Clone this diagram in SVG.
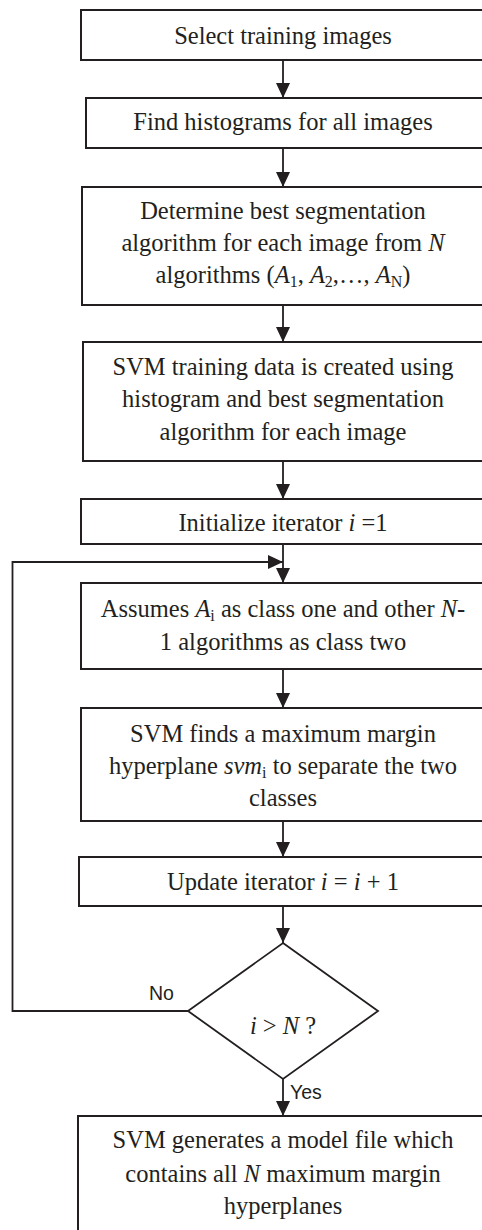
<svg xmlns="http://www.w3.org/2000/svg" width="482" height="1230" viewBox="0 0 482 1230">
<style>
.box{fill:#fff;stroke:#231f20;stroke-width:2}
.dia{fill:#fff;stroke:#231f20;stroke-width:1.8}
.t{font-family:"Liberation Serif","Times New Roman",serif;font-size:24.5px;fill:#231f20;text-anchor:middle}
.i{font-style:italic}
.sub{font-size:16px}
.lab{font-family:"Liberation Sans",Arial,sans-serif;font-size:19.5px;fill:#231f20}
.c{fill:none;stroke:#231f20;stroke-width:1.8}
</style>
<defs>
<marker id="ah" markerUnits="userSpaceOnUse" markerWidth="15" markerHeight="15" viewBox="0 0 15 15" refX="15" refY="7.5" orient="auto">
<path d="M0,0.5 L15,7.5 L0,14.5 z" fill="#231f20"/>
</marker>
</defs>
<rect width="482" height="1230" fill="#fff"/>
<g id="connectors">
<line class="c" x1="283" y1="60" x2="283" y2="98" marker-end="url(#ah)"/>
<line class="c" x1="283" y1="148" x2="283" y2="187" marker-end="url(#ah)"/>
<line class="c" x1="283" y1="305" x2="283" y2="342" marker-end="url(#ah)"/>
<line class="c" x1="283" y1="461" x2="283" y2="499" marker-end="url(#ah)"/>
<line class="c" x1="283" y1="544" x2="283" y2="583" marker-end="url(#ah)"/>
<line class="c" x1="283" y1="669" x2="283" y2="708" marker-end="url(#ah)"/>
<line class="c" x1="283" y1="821" x2="283" y2="857" marker-end="url(#ah)"/>
<line class="c" x1="283" y1="906" x2="283" y2="943" marker-end="url(#ah)"/>
<line class="c" x1="283" y1="1079" x2="283" y2="1116" marker-end="url(#ah)"/>
<polyline class="c" points="188,1011 12.5,1011 12.5,562 283,562" marker-end="url(#ah)"/>
<text class="lab" x="149" y="1000">No</text>
<text class="lab" x="290" y="1099">Yes</text>
</g>
<g id="n1">
<rect class="box" x="81" y="10" width="404" height="50"/>
<text class="t" x="283" y="43.5">Select training images</text>
</g>
<g id="n2">
<rect class="box" x="86" y="98" width="399" height="50"/>
<text class="t" x="283" y="130">Find histograms for all images</text>
</g>
<g id="n3">
<rect class="box" x="82" y="187" width="403" height="118"/>
<text class="t" x="283" y="219">Determine best segmentation</text>
<text class="t" x="283" y="251">algorithm for each image from <tspan class="i">N</tspan></text>
<text class="t" x="283" y="283">algorithms (<tspan class="i">A</tspan><tspan class="sub" dy="4">1</tspan><tspan dy="-4">, </tspan><tspan class="i">A</tspan><tspan class="sub" dy="4">2</tspan><tspan dy="-4">,…, </tspan><tspan class="i">A</tspan><tspan class="sub" dy="4">N</tspan><tspan dy="-4">)</tspan></text>
</g>
<g id="n4">
<rect class="box" x="83" y="342" width="402" height="119"/>
<text class="t" x="283" y="375">SVM training data is created using</text>
<text class="t" x="283" y="407">histogram and best segmentation</text>
<text class="t" x="283" y="440">algorithm for each image</text>
</g>
<g id="n5">
<rect class="box" x="81" y="499" width="404" height="45"/>
<text class="t" x="283" y="531">Initialize iterator <tspan class="i">i</tspan> =1</text>
</g>
<g id="n6">
<rect class="box" x="81" y="583" width="404" height="86"/>
<text class="t" x="283" y="617">Assumes <tspan class="i">A</tspan><tspan class="sub" dy="4">i</tspan><tspan dy="-4"> as class one and other </tspan><tspan class="i">N</tspan>-</text>
<text class="t" x="283" y="650">1 algorithms as class two</text>
</g>
<g id="n7">
<rect class="box" x="81" y="708" width="404" height="113"/>
<text class="t" x="283" y="742">SVM finds a maximum margin</text>
<text class="t" x="283" y="774">hyperplane <tspan class="i">svm</tspan><tspan class="sub" dy="4">i</tspan><tspan dy="-4"> to separate the two</tspan></text>
<text class="t" x="283" y="806">classes</text>
</g>
<g id="n8">
<rect class="box" x="79" y="857" width="406" height="49"/>
<text class="t" x="283" y="890">Update iterator <tspan class="i">i</tspan> = <tspan class="i">i</tspan> + 1</text>
</g>
<g id="n9">
<polygon class="dia" points="283,943 378,1011 283,1079 188,1011"/>
<text class="t" x="283" y="1034"><tspan class="i">i</tspan> &gt; <tspan class="i">N</tspan> ?</text>
</g>
<g id="n10">
<rect class="box" x="78" y="1116" width="407" height="120"/>
<text class="t" x="283" y="1148">SVM generates a model file which</text>
<text class="t" x="283" y="1182">contains all <tspan class="i">N</tspan> maximum margin</text>
<text class="t" x="283" y="1214">hyperplanes</text>
</g>
</svg>
